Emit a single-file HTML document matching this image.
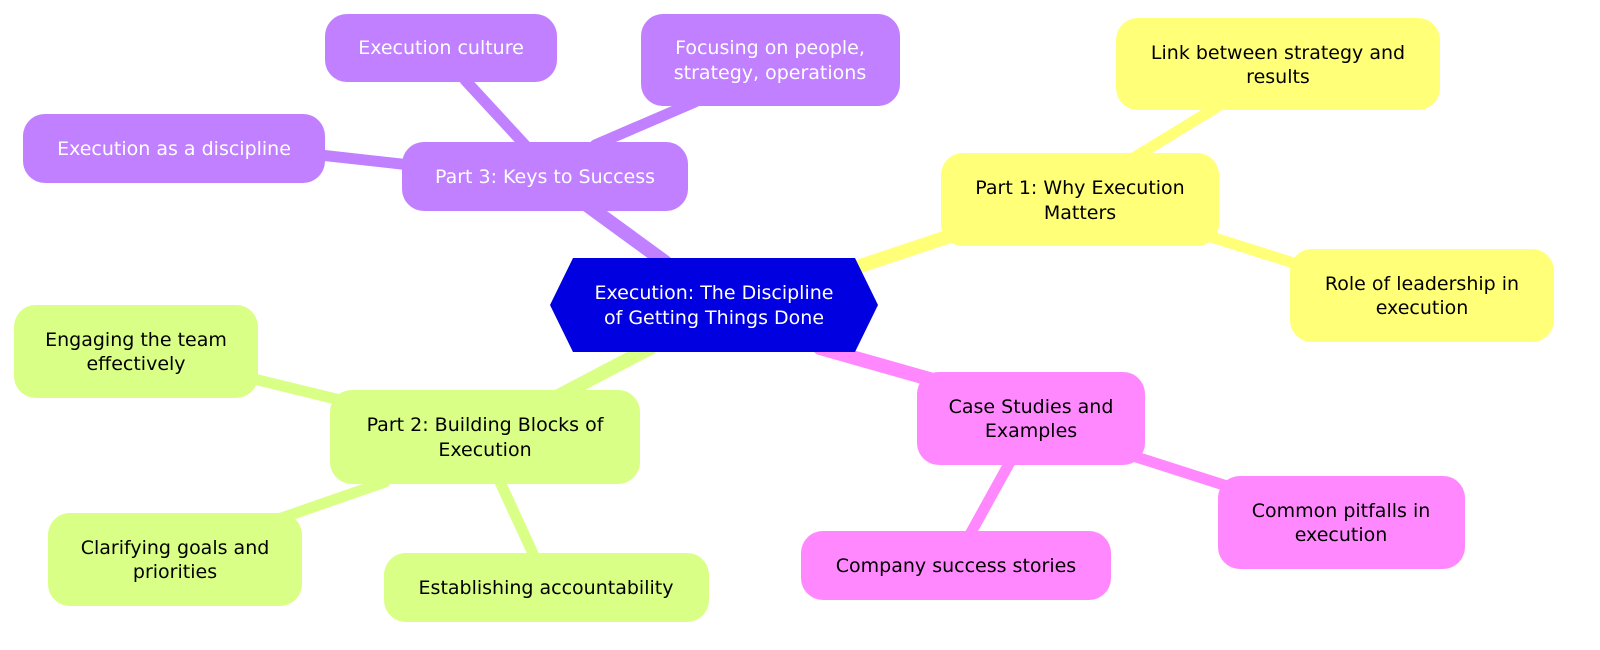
<!DOCTYPE html>
<html><head><meta charset="utf-8"><style>
html,body{margin:0;padding:0;background:#fff;overflow:hidden;width:1600px;height:650px;}
svg{display:block;}
svg text{font-family:"DejaVu Sans","Liberation Sans",sans-serif;font-size:19px;text-anchor:middle;}
</style></head><body>
<svg width="1600" height="650" viewBox="0 0 1600 650" xmlns="http://www.w3.org/2000/svg">
<g stroke-linecap="round">
<line x1="665" y1="262" x2="580" y2="200" stroke="#c080ff" stroke-width="14"/>
<line x1="525" y1="145" x2="465" y2="80" stroke="#c080ff" stroke-width="11"/>
<line x1="595" y1="145" x2="695" y2="102" stroke="#c080ff" stroke-width="11"/>
<line x1="410" y1="165" x2="320" y2="155" stroke="#c080ff" stroke-width="11"/>
<line x1="860" y1="266" x2="950" y2="236" stroke="#ffff78" stroke-width="14"/>
<line x1="1135" y1="157" x2="1220" y2="105" stroke="#ffff78" stroke-width="11"/>
<line x1="1205" y1="235" x2="1300" y2="265" stroke="#ffff78" stroke-width="11"/>
<line x1="820" y1="348" x2="940" y2="382" stroke="#ff88ff" stroke-width="14"/>
<line x1="1130" y1="455" x2="1230" y2="487" stroke="#ff88ff" stroke-width="11"/>
<line x1="1010" y1="462" x2="968" y2="538" stroke="#ff88ff" stroke-width="11"/>
<line x1="650" y1="348" x2="545" y2="403" stroke="#d9ff86" stroke-width="14"/>
<line x1="250" y1="378" x2="340" y2="400" stroke="#d9ff86" stroke-width="11"/>
<line x1="385" y1="482" x2="270" y2="522" stroke="#d9ff86" stroke-width="11"/>
<line x1="500" y1="482" x2="535" y2="558" stroke="#d9ff86" stroke-width="11"/>
</g>
<polygon points="573,258 855,258 878,305 855,352 573,352 550,305" fill="#0000e0"/>
<text x="714" y="299" fill="#fff">Execution: The Discipline</text>
<text x="714" y="324" fill="#fff">of Getting Things Done</text>

<g fill="#c080ff">
<rect x="402" y="142" width="286" height="69" rx="22"/>
<rect x="325" y="14" width="232" height="68" rx="22"/>
<rect x="641" y="14" width="259" height="92" rx="22"/>
<rect x="23" y="114" width="302" height="69" rx="22"/>
</g>
<g fill="#fff">
<text x="545" y="183">Part 3: Keys to Success</text>
<text x="441" y="54">Execution culture</text>
<text x="770" y="54">Focusing on people,</text>
<text x="770" y="79">strategy, operations</text>
<text x="174" y="155">Execution as a discipline</text>
</g>

<g fill="#ffff78">
<rect x="941" y="153" width="278" height="93" rx="22"/>
<rect x="1116" y="18" width="324" height="92" rx="22"/>
<rect x="1290" y="249" width="264" height="93" rx="22"/>
</g>
<g fill="#ff88ff">
<rect x="917" y="372" width="228" height="93" rx="22"/>
<rect x="1218" y="476" width="247" height="93" rx="22"/>
<rect x="801" y="531" width="310" height="69" rx="22"/>
</g>
<g fill="#d9ff86">
<rect x="330" y="390" width="310" height="94" rx="22"/>
<rect x="14" y="305" width="244" height="93" rx="22"/>
<rect x="48" y="513" width="254" height="93" rx="22"/>
<rect x="384" y="553" width="325" height="69" rx="22"/>
</g>
<g fill="#000">
<text x="1080" y="194">Part 1: Why Execution</text>
<text x="1080" y="219">Matters</text>
<text x="1278" y="59">Link between strategy and</text>
<text x="1278" y="83">results</text>
<text x="1422" y="290">Role of leadership in</text>
<text x="1422" y="314">execution</text>
<text x="1031" y="413">Case Studies and</text>
<text x="1031" y="437">Examples</text>
<text x="1341" y="517">Common pitfalls in</text>
<text x="1341" y="541">execution</text>
<text x="956" y="572">Company success stories</text>
<text x="485" y="431">Part 2: Building Blocks of</text>
<text x="485" y="456">Execution</text>
<text x="136" y="346">Engaging the team</text>
<text x="136" y="370">effectively</text>
<text x="175" y="554">Clarifying goals and</text>
<text x="175" y="578">priorities</text>
<text x="546" y="594">Establishing accountability</text>
</g>
</svg>
</body></html>
